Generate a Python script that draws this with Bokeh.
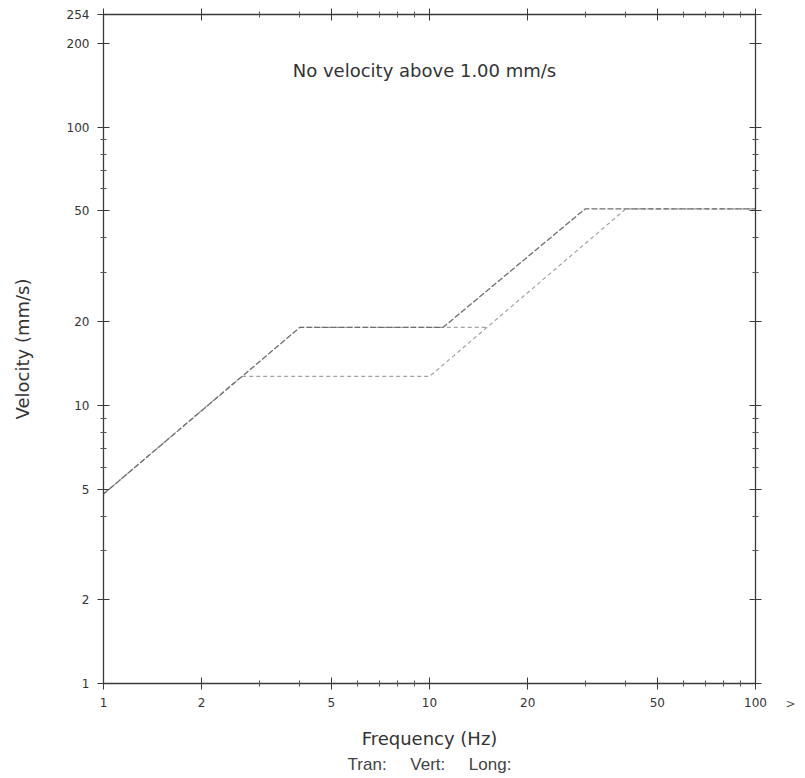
from bokeh.plotting import figure
from bokeh.models import (LogAxis, FixedTicker, Label, Range1d, Title,
                          CustomLabelingPolicy)
from bokeh.embed import file_html
from bokeh.resources import INLINE

# ---- data (frequency in Hz, peak particle velocity in mm/s) ----
osm_freq = [1, 4, 11, 30, 100]
osm_vel = [4.8, 19.05, 19.05, 50.8, 50.8]

usbm_plaster_freq = [1, 2.65, 10, 40, 100]
usbm_plaster_vel = [4.8, 12.7, 12.7, 50.8, 50.8]

usbm_drywall_freq = [4, 15]
usbm_drywall_vel = [19.05, 19.05]

x_major = [1, 2, 5, 10, 20, 50, 100]
x_minor = [3, 4, 6, 7, 8, 9, 30, 40, 60, 70, 80, 90]
y_major = [1, 2, 5, 10, 20, 50, 100, 200, 254]
y_minor = [3, 4, 6, 7, 8, 9, 30, 40, 60, 70, 80, 90]

title_text = "No velocity above 1.00 mm/s"
x_label = "Frequency (Hz)"
y_label = "Velocity (mm/s)"
footer_items = ["Tran:", "Vert:", "Long:"]
more_mark = ">"

AX = "#3a3a3a"
TXT = "#333333"

p = figure(width=805, height=778, x_axis_type="log", y_axis_type="log",
           x_range=Range1d(1, 100), y_range=Range1d(1, 254),
           output_backend="svg", toolbar_location=None,
           min_border_left=103, min_border_right=50,
           min_border_top=14, min_border_bottom=95)
p.grid.visible = False
p.outline_line_color = None
p.background_fill_color = "white"
p.border_fill_color = "white"

no_labels = CustomLabelingPolicy(
    code="for (const i of indices) { indices.unset(i) } return indices")


def style(ax, ticks, minors, show_labels=True):
    ax.ticker = FixedTicker(ticks=ticks, minor_ticks=minors)
    ax.axis_line_color = AX
    ax.axis_line_width = 1.3
    ax.major_tick_line_color = AX
    ax.major_tick_in = 6
    ax.major_tick_out = 6
    ax.minor_tick_line_color = "#555555"
    ax.minor_tick_in = 3
    ax.minor_tick_out = 3
    if show_labels:
        ax.major_label_overrides = {t: str(t) for t in ticks}
        ax.major_label_text_font = "DejaVu Sans"
        ax.major_label_text_font_size = "12px"
        ax.major_label_text_color = TXT
        ax.major_label_standoff = 8
    else:
        ax.major_label_policy = no_labels
        ax.major_label_text_font_size = "1px"
        ax.major_label_standoff = 0


style(p.xaxis[0], x_major, x_minor)
style(p.yaxis[0], y_major, y_minor)

p.xaxis.axis_label = x_label
p.xaxis.axis_label_text_font = "DejaVu Sans"
p.xaxis.axis_label_text_font_size = "18px"
p.xaxis.axis_label_text_font_style = "normal"
p.xaxis.axis_label_text_color = TXT
p.xaxis.axis_label_standoff = 18

p.yaxis.axis_label = y_label
p.yaxis.axis_label_text_font = "DejaVu Sans"
p.yaxis.axis_label_text_font_size = "18px"
p.yaxis.axis_label_text_font_style = "normal"
p.yaxis.axis_label_text_color = TXT
p.yaxis.axis_label_standoff = 31

top = LogAxis()
style(top, x_major, x_minor, show_labels=False)
p.add_layout(top, "above")
right = LogAxis()
style(right, y_major, y_minor, show_labels=False)
p.add_layout(right, "right")

# ---- curves ----
p.line(usbm_plaster_freq, usbm_plaster_vel, line_color="#a3a3a3",
       line_width=1.2, line_dash="4 3")
p.line(usbm_drywall_freq, usbm_drywall_vel, line_color="#a3a3a3",
       line_width=1.2, line_dash="4 3")
p.line(osm_freq, osm_vel, line_color="#6f6f6f", line_width=1.3,
       line_dash="6 2")

# ---- texts ----
p.add_layout(Label(x=321, y=613, x_units="screen", y_units="screen",
                   text=title_text, text_align="center",
                   text_baseline="middle", text_font="DejaVu Sans",
                   text_font_size="18px", text_color=TXT))

gap = "\u00a0" * 5
footer = Title(text=gap.join(footer_items), align="center", offset=-27,
               text_font="Liberation Sans", text_font_size="17px",
               text_font_style="normal", text_color="#444444", standoff=2)
p.add_layout(footer, "below")

# ">" beside the last frequency label, placed in the right side panel
p.add_layout(Label(x=19, y=-20, x_units="screen", y_units="screen",
                   text=more_mark, text_align="left", text_baseline="middle",
                   text_font="DejaVu Sans", text_font_size="12px",
                   text_color="#555555"), "right")

open("out.html", "w").write(file_html(p, INLINE))
